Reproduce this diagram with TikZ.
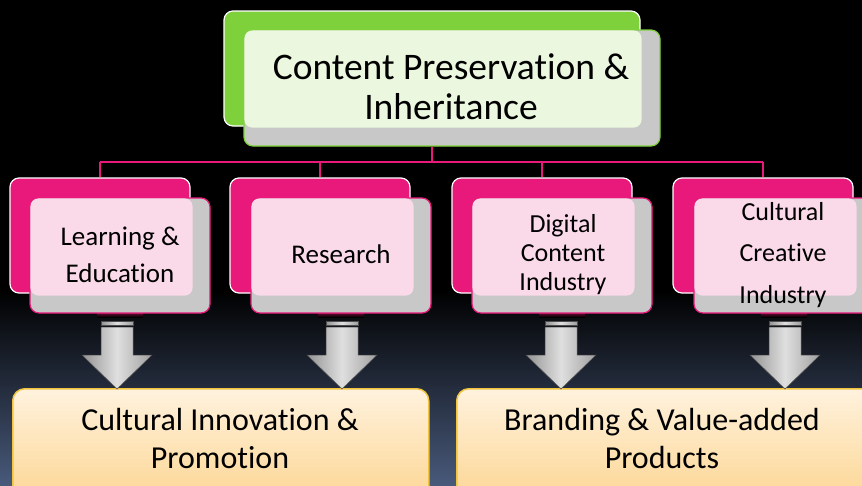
\documentclass[tikz,border=0pt]{standalone}
\usepackage{fontspec}
\setmainfont{Carlito}[Ligatures={NoCommon},RawFeature=-liga,RawFeature=-calt,RawFeature=-clig,RawFeature=-dlig]
\usetikzlibrary{calc}
\definecolor{pinkc}{HTML}{E8197A}
\definecolor{palepink}{HTML}{FADAE9}
\definecolor{greenc}{HTML}{7FD13B}
\definecolor{palegreen}{HTML}{EBF7DE}
\definecolor{stip}{HTML}{C8C8C8}
\definecolor{bgblue}{HTML}{48597A}
\definecolor{cream}{HTML}{FFF2DE}
\definecolor{orng}{HTML}{FCD48E}
\definecolor{goldb}{HTML}{F2C33C}
\tikzset{
  backbox/.style={draw=white, line width=1.2pt, rounded corners=9pt, inner sep=0pt},
  frontbox/.style={draw=#1, line width=1.2pt, rounded corners=9pt, inner sep=0pt, fill=stip},
  pinkline/.style={draw=pinkc, line width=1.4pt},
  grayarrow/.style={left color=gray!85, right color=gray!75, middle color=gray!25, draw=black!70, line width=0.5pt},
  outbox/.style={draw=goldb, line width=1.5pt, rounded corners=12pt, top color=cream, bottom color=orng, inner sep=0pt},
  lbl/.style={align=center, text=black, font=\fontsize{27}{37}\selectfont}
}
\begin{document}
\begin{tikzpicture}[x=1pt,y=-1pt]
% background
\fill[black] (0,0) rectangle (862,485);
\shade[top color=black, bottom color=bgblue] (0,290) rectangle (862,485);
\useasboundingbox (0,0) rectangle (862,485);

% top box
\node[backbox, fill=greenc, minimum width=416pt, minimum height=115pt] (topback) at (432,68.5) {};
\node[frontbox=greenc, minimum width=416pt, minimum height=116pt] (topfront) at (452,88) {};
\fill[palegreen, rounded corners=8pt] ($(topfront.north west)+(1,1)$) rectangle ($(topfront.south east)+(-19,-19)$);
\node[align=center, font=\fontsize{37.5}{40}\selectfont] (toptext) at (451,87) {Content Preservation \&\\Inheritance};

% connectors
\coordinate (hub) at (432,162);
\foreach \i/\x in {1/100,2/320,3/542,4/763} {
  \node[backbox, fill=pinkc, minimum width=180pt, minimum height=115pt] (back\i) at (\x,235.5) {};
}
\draw[pinkline] (topfront.south -| hub) -- (hub);
\draw[pinkline] (back1.north |- hub) -- (back4.north |- hub);
\foreach \i in {1,...,4} \draw[pinkline] (back\i.north |- hub) -- (back\i.north);

% front boxes
\foreach \i/\x in {1/120,2/341,3/562,4/784} {
  \shade[top color=pinkc!75!black, bottom color=black] (\x-23,310) rectangle (\x+23,317);
  \node[frontbox=pinkc, minimum width=180pt, minimum height=115pt] (front\i) at (\x,255.5) {};
  \fill[palepink, rounded corners=8pt] ($(front\i.north west)+(1,1)$) rectangle ($(front\i.south east)+(-18,-18)$);
}
\node[lbl] (t1) at (120,255) {Learning \&\\Education};
\node[lbl, font=\fontsize{27}{30}\selectfont] (t2) at (341,254) {Research};
\node[lbl, font=\fontsize{26}{29}\selectfont] (t3) at (563,255) {Digital\\Content\\Industry};
\node[lbl, font=\fontsize{26}{41.5}\selectfont] (t4) at (783,255) {Cultural\\Creative\\Industry};

% outcome boxes
\node[outbox, minimum width=416pt, minimum height=120pt, anchor=north west] (out1) at (12,388) {};
\node[outbox, minimum width=420pt, minimum height=120pt, anchor=north west] (out2) at (456,388) {};
\node[align=center, font=\fontsize{32}{38}\selectfont] (o1) at (220,439) {Cultural Innovation \&\\Promotion};
\node[align=center, font=\fontsize{32}{38}\selectfont] (o2) at (662,439) {Branding \& Value-added\\Products};

% arrows
\foreach \i/\x in {1/117,2/342,3/561,4/785} {
  \coordinate (a\i) at (\x,322);
  \fill[grayarrow] (\x-16,321.5) rectangle (\x+16,325);
  \path[grayarrow] (\x-16,327) -- (\x+16,327) -- (\x+16,355) -- (\x+35,355) -- (\x,389) -- (\x-35,355) -- (\x-16,355) -- cycle;
}
\end{tikzpicture}
\end{document}
